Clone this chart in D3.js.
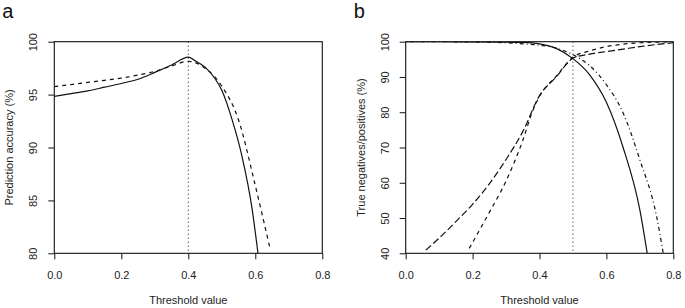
<!DOCTYPE html>
<html>
<head>
<meta charset="utf-8">
<script src="https://cdn.jsdelivr.net/npm/d3@7"></script>
<style>
  body { margin: 0; background: #fff; }
  svg { display: block; font-family: "Liberation Sans", Arial, Helvetica, sans-serif; }
  .tick text { font-size: 11px; fill: #222; }
  .tick line { stroke: #111; }
  .axis-title { font-size: 11px; fill: #222; }
  .panel-label { font-size: 20px; fill: #111; }
  .curve { fill: none; stroke: #111; stroke-width: 1.2; }
</style>
</head>
<body>
<svg width="685" height="308"></svg>
<script>
const svg = d3.select('svg');

// Panel a: prediction accuracy
const accSolidX = [0, 0.05, 0.1, 0.15, 0.2, 0.25, 0.3, 0.35, 0.4, 0.42, 0.45, 0.48, 0.5, 0.53, 0.56, 0.59, 0.608];
const accSolidY = [94.83, 95.1, 95.35, 95.7, 96.05, 96.45, 97.1, 97.8, 98.55, 98.2, 97.6, 96.5, 95.4, 92.7, 89.2, 84.3, 80];
const accDashX  = [0, 0.05, 0.1, 0.15, 0.2, 0.25, 0.3, 0.35, 0.4, 0.45, 0.5, 0.55, 0.6, 0.645];
const accDashY  = [95.75, 95.95, 96.15, 96.35, 96.55, 96.85, 97.2, 97.7, 98.15, 97.5, 95.8, 92.6, 86.4, 80.3];

// Panel b: true negatives / positives
const tpLongX  = [0.06, 0.1, 0.15, 0.2, 0.25, 0.3, 0.35, 0.4, 0.45, 0.5, 0.55, 0.6, 0.65, 0.7, 0.75, 0.8];
const tpLongY  = [40.9, 44.3, 49.0, 53.9, 59.7, 66.6, 74.5, 84.7, 90.0, 95.3, 96.5, 97.2, 97.9, 98.6, 99.2, 99.7];
const tpShortX = [0.19, 0.25, 0.3, 0.35, 0.38, 0.4, 0.45, 0.5, 0.55, 0.6, 0.65, 0.7, 0.75, 0.8];
const tpShortY = [41.4, 51.6, 60.5, 72.0, 80.5, 84.5, 90.2, 95.6, 97.4, 98.6, 99.3, 99.7, 99.9, 100];
const tnSolidX = [0, 0.1, 0.2, 0.3, 0.35, 0.4, 0.45, 0.5, 0.55, 0.6, 0.65, 0.7, 0.722];
const tnSolidY = [100, 100, 99.95, 99.9, 99.8, 99.4, 98.1, 95.2, 90.6, 82.8, 70.0, 52.3, 40];
const tnDotDashX = [0, 0.1, 0.2, 0.3, 0.35, 0.4, 0.45, 0.5, 0.55, 0.6, 0.65, 0.7, 0.75, 0.77];
const tnDotDashY = [100, 100, 99.9, 99.7, 99.4, 99.0, 98.2, 96.3, 93.2, 87.8, 79.8, 66.5, 50.5, 40];

const xTicks  = [0, 0.2, 0.4, 0.6, 0.8];
const yTicksA = [80, 85, 90, 95, 100];
const yTicksB = [40, 50, 60, 70, 80, 90, 100];

const zip = (xs, ys) => xs.map((x, i) => [x, ys[i]]);

function panel(opts) {
  const { left, right, top, bottom, yDomain, yTicks, yTitle, label, cutoff, series } = opts;
  const x = d3.scaleLinear().domain([0, 0.8]).range([left, right]);
  const y = d3.scaleLinear().domain(yDomain).range([bottom, top]);

  const g = svg.append('g');

  // x axis
  const xa = g.append('g')
    .attr('transform', `translate(0,${bottom})`)
    .call(d3.axisBottom(x).tickValues(xTicks).tickFormat(d3.format('.1f')).tickSize(6).tickPadding(12));
  xa.select('.domain').remove();

  // y axis with rotated labels
  const ya = g.append('g')
    .attr('transform', `translate(${left},0)`)
    .call(d3.axisLeft(y).tickValues(yTicks).tickSize(6));
  ya.select('.domain').remove();
  ya.selectAll('.tick text')
    .attr('x', 0).attr('dy', 0)
    .attr('text-anchor', 'middle')
    .attr('transform', 'translate(-17,0) rotate(-90)');

  // box
  g.append('rect')
    .attr('x', left).attr('y', top)
    .attr('width', right - left).attr('height', bottom - top)
    .attr('fill', 'none').attr('stroke', '#111').attr('stroke-width', 1.1);

  // clip region for curves
  const clipId = 'clip-' + label;
  svg.append('clipPath').attr('id', clipId)
    .append('rect').attr('x', left).attr('y', top)
    .attr('width', right - left).attr('height', bottom - top);

  const plot = g.append('g').attr('clip-path', `url(#${clipId})`);

  // dotted cutoff line
  plot.append('line')
    .attr('x1', x(cutoff)).attr('x2', x(cutoff))
    .attr('y1', top).attr('y2', bottom)
    .attr('stroke', '#111').attr('stroke-width', 1)
    .attr('stroke-dasharray', '1 3');

  const line = d3.line().x(d => x(d[0])).y(d => y(d[1])).curve(d3.curveMonotoneX);
  series.forEach(s => {
    plot.append('path')
      .datum(zip(s.xs, s.ys))
      .attr('class', 'curve')
      .attr('stroke-dasharray', s.dash)
      .attr('d', line);
  });

  // titles
  g.append('text').attr('class', 'axis-title')
    .attr('x', (left + right) / 2).attr('y', 304)
    .attr('text-anchor', 'middle')
    .text('Threshold value');
  g.append('text').attr('class', 'axis-title')
    .attr('text-anchor', 'middle')
    .attr('transform', `translate(${left - 41},${(top + bottom) / 2}) rotate(-90)`)
    .text(yTitle);
  g.append('text').attr('class', 'panel-label')
    .attr('x', left - 52).attr('y', 18)
    .text(label);
}

panel({
  left: 54.3, right: 322.3, top: 41.7, bottom: 253.3,
  yDomain: [80, 100], yTicks: yTicksA,
  yTitle: 'Prediction accuracy (%)', label: 'a', cutoff: 0.4,
  series: [
    { xs: accSolidX, ys: accSolidY, dash: null },
    { xs: accDashX, ys: accDashY, dash: '4 4' }
  ]
});

panel({
  left: 405.7, right: 673.3, top: 41.7, bottom: 253.3,
  yDomain: [40, 100], yTicks: yTicksB,
  yTitle: 'True negatives/positives (%)', label: 'b', cutoff: 0.5,
  series: [
    { xs: tnSolidX, ys: tnSolidY, dash: null },
    { xs: tnDotDashX, ys: tnDotDashY, dash: '1 3 4 3' },
    { xs: tpLongX, ys: tpLongY, dash: '7 3' },
    { xs: tpShortX, ys: tpShortY, dash: '4 4' }
  ]
});
</script>
</body>
</html>
